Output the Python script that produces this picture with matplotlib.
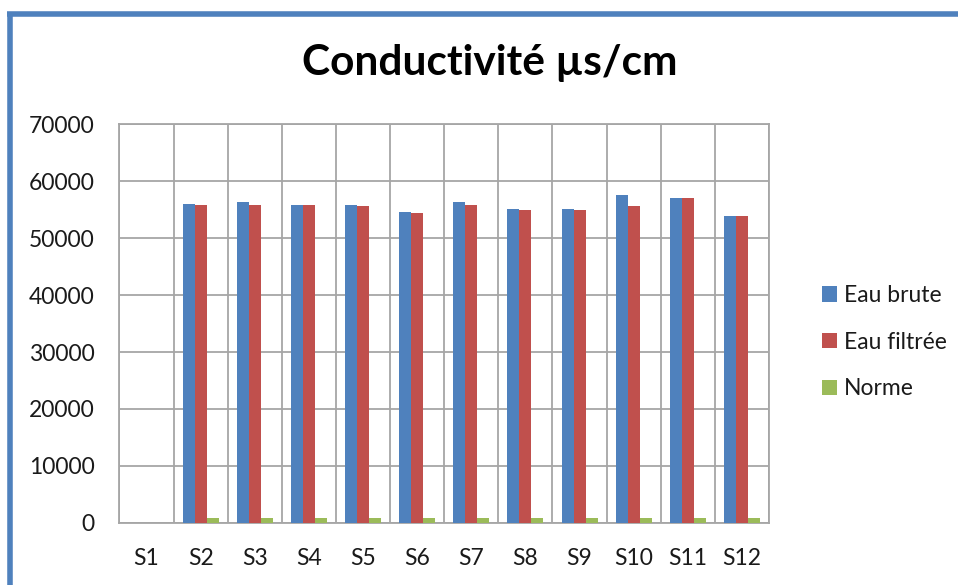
import matplotlib
matplotlib.use("Agg")
import matplotlib.pyplot as plt
import numpy as np
from matplotlib.lines import Line2D
from matplotlib.patches import Patch

categories = ["S1", "S2", "S3", "S4", "S5", "S6", "S7", "S8", "S9", "S10", "S11", "S12"]
eau_brute = [0, 56100, 56300, 55850, 55850, 54700, 56300, 55150, 55150, 57650, 57000, 54000]
eau_filtree = [0, 55850, 55850, 55850, 55650, 54500, 55850, 54950, 54950, 55650, 57000, 54000]
norme = [0, 750, 750, 750, 750, 750, 750, 750, 750, 750, 750, 750]
series_names = ["Eau brute", "Eau filtrée", "Norme"]
colors = ["#4F81BD", "#C0504D", "#9BBB59"]
yticks = [0, 10000, 20000, 30000, 40000, 50000, 60000, 70000]

plt.rcParams['font.family'] = ['Lato', 'DejaVu Sans']

fig = plt.figure(figsize=(9.58, 5.85), dpi=100)
ax = fig.add_axes([0.1247, 0.1065, 0.8027 - 0.1247, 0.7872 - 0.1065])

x = np.arange(len(categories))
w = 0.222
for i, (vals, c) in enumerate(zip([eau_brute, eau_filtree, norme], colors)):
    ax.bar(x + (i - 1) * w, vals, width=w, color=c, zorder=3, linewidth=0)

ax.set_xlim(-0.5, len(categories) - 0.5)
ax.set_ylim(0, 70000)
ax.set_yticks(yticks)
ax.set_yticklabels([str(v) for v in yticks], fontsize=16.5, color='#1a1a1a')
ax.set_xticks(x)
ax.set_xticklabels(categories, fontsize=16.5, color='#1a1a1a')
ax.set_xticks(np.arange(-0.5, len(categories), 1), minor=True)
ax.grid(True, axis='y', color='#a6a6a6', linewidth=1.3, zorder=0)
ax.grid(True, axis='x', which='minor', color='#a6a6a6', linewidth=1.3, zorder=0)
ax.tick_params(axis='both', which='both', length=0)
ax.tick_params(axis='y', pad=18)
ax.tick_params(axis='x', pad=18)
for s in ax.spines.values():
    s.set_color('#a6a6a6')
    s.set_linewidth(1.3)

fig.text(0.511, 0.892, "Conductivité µs/cm", ha='center', va='center',
         fontsize=30.5, fontweight='bold')

handles = [Patch(facecolor=c, edgecolor='none') for c in colors]
leg = fig.legend(handles, series_names, loc='center left', bbox_to_anchor=(0.837, 0.415),
                 frameon=False, fontsize=16.5, labelspacing=1.12, handlelength=0.64,
                 handleheight=0.64, handletextpad=0.3)
for t in leg.get_texts():
    t.set_color('#1a1a1a')

fig.add_artist(Line2D([7 / 958, 1.0], [1 - 14 / 585, 1 - 14 / 585], color='#4F81BD',
                      linewidth=4, transform=fig.transFigure, solid_capstyle='butt'))
fig.add_artist(Line2D([9.5 / 958, 9.5 / 958], [0, 1 - 12 / 585], color='#4F81BD',
                      linewidth=4, transform=fig.transFigure, solid_capstyle='butt'))

fig.savefig("out.png", dpi=100)
